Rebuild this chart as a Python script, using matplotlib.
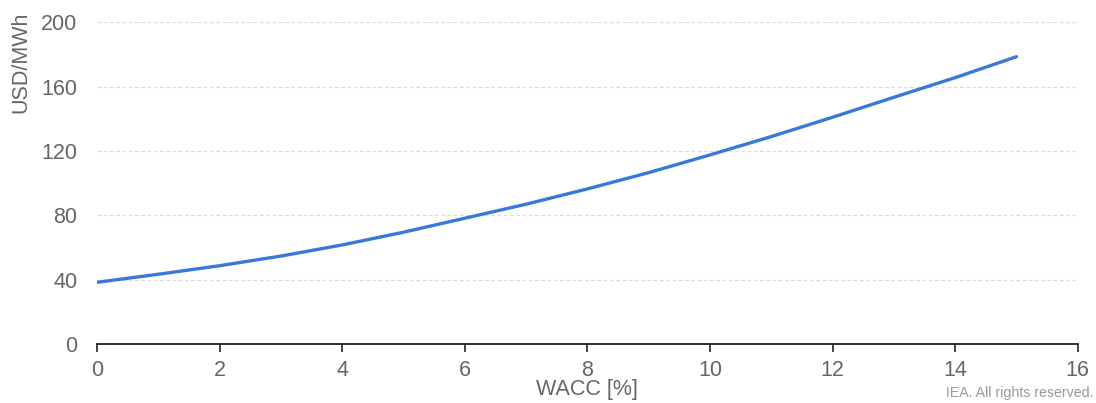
import numpy as np
import matplotlib.pyplot as plt

plt.rcParams['font.family'] = ['Liberation Sans', 'DejaVu Sans']

# WACC (%) vs LCOE (USD/MWh)
wacc = [0, 1, 2, 3, 4, 5, 6, 7, 8, 9, 10, 11, 12, 13, 14, 15]
lcoe = [38.5, 43.5, 48.8, 54.8, 61.7, 69.6, 78.3, 87.0, 96.5, 106.6,
        117.6, 129.0, 141.0, 153.4, 165.6, 178.6]

x_ticks = [0, 2, 4, 6, 8, 10, 12, 14, 16]
y_ticks = [0, 40, 80, 120, 160, 200]

fig = plt.figure(figsize=(10.96, 4.03), dpi=100)
ax = fig.add_axes([0.0885, 0.1457, 0.8948, 0.799])

ax.plot(wacc, lcoe, color='#3a78d8', lw=2.4, solid_capstyle='round')

ax.set_xlim(0, 16)
ax.set_ylim(0, 200)
ax.set_xticks(x_ticks)
ax.set_yticks(y_ticks)

# grid lines only above zero
for yv in y_ticks[1:]:
    ax.axhline(yv, color='#dddddd', lw=0.9, ls=(0, (3, 2)), zorder=0)

for s in ['top', 'right', 'left']:
    ax.spines[s].set_visible(False)
ax.spines['bottom'].set_color('#222222')
ax.spines['bottom'].set_linewidth(1.3)

ax.tick_params(axis='x', length=6, width=1.2, color='#222222',
               labelsize=15.5, labelcolor='#666666', pad=5)
ax.tick_params(axis='y', length=0, labelsize=15.5, labelcolor='#666666', pad=14)

# y label sits near the top, as in the original
fig.text(0.019, 1 - 12 / 403, 'USD/MWh', rotation=90, ha='center', va='top',
         fontsize=15.5, color='#666666')
ax.set_xlabel('WACC [%]', fontsize=15.5, color='#666666', labelpad=-1)

fig.text(0.998, 0.024, 'IEA. All rights reserved.', ha='right', va='center',
         fontsize=10.2, color='#999999')

fig.savefig('out.png', dpi=100)
